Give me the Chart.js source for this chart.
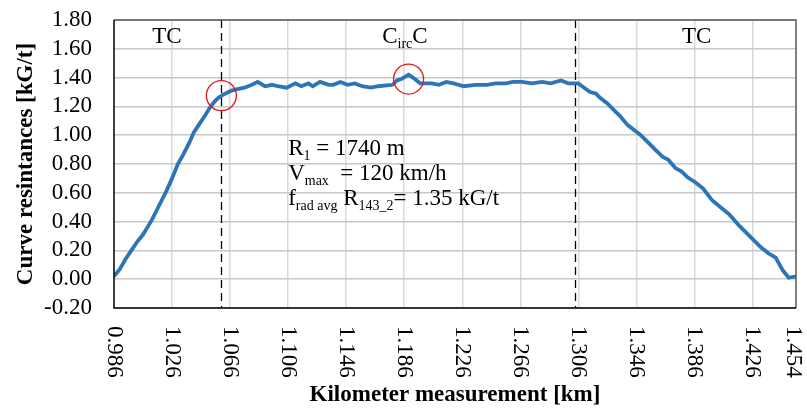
<!DOCTYPE html>
<html>
<head>
<meta charset="utf-8">
<script src="https://cdn.jsdelivr.net/npm/chart.js@4"></script>
<style>
  html, body { margin: 0; padding: 0; background: #fff; }
</style>
</head>
<body>
<canvas id="chart" width="807" height="409"></canvas>
<script>
// Measured curve resistance along the track
var km = [
  0.986, 0.990, 0.994, 0.998, 1.002, 1.006, 1.009, 1.012, 1.015, 1.019,
  1.022, 1.026, 1.030, 1.034, 1.038, 1.041, 1.045, 1.049, 1.052, 1.055,
  1.058, 1.061, 1.065, 1.067, 1.071, 1.076, 1.081, 1.085, 1.090, 1.095, 1.099,
  1.105, 1.111, 1.115, 1.120, 1.123, 1.128, 1.134, 1.137, 1.142, 1.147,
  1.152, 1.157, 1.163, 1.168, 1.178, 1.181, 1.184, 1.189, 1.192, 1.197,
  1.201, 1.205, 1.210, 1.215, 1.220, 1.227, 1.235, 1.243, 1.249, 1.256,
  1.261, 1.267, 1.274, 1.281, 1.287, 1.294, 1.299, 1.303, 1.306, 1.310,
  1.314, 1.318, 1.321, 1.326, 1.330, 1.335, 1.340, 1.344, 1.349, 1.353,
  1.359, 1.364, 1.368, 1.373, 1.377, 1.381, 1.387, 1.392, 1.398, 1.404,
  1.410, 1.417, 1.422, 1.427, 1.432, 1.437, 1.442, 1.447, 1.451, 1.456
];
var resistance = [
  0.02, 0.07, 0.14, 0.20, 0.26, 0.31, 0.36, 0.41, 0.47, 0.55,
  0.61, 0.70, 0.80, 0.87, 0.95, 1.02, 1.08, 1.14, 1.19, 1.23,
  1.26, 1.28, 1.30, 1.31, 1.32, 1.33, 1.35, 1.37, 1.34, 1.35, 1.34,
  1.33, 1.36, 1.34, 1.36, 1.34, 1.37, 1.35, 1.35, 1.37, 1.35,
  1.36, 1.34, 1.33, 1.34, 1.35, 1.38, 1.39, 1.42, 1.40, 1.36,
  1.36, 1.36, 1.35, 1.37, 1.36, 1.34, 1.35, 1.35, 1.36, 1.36,
  1.37, 1.37, 1.36, 1.37, 1.36, 1.38, 1.36, 1.36, 1.36, 1.33,
  1.30, 1.29, 1.26, 1.22, 1.18, 1.13, 1.07, 1.04, 1.00, 0.96,
  0.90, 0.85, 0.83, 0.77, 0.75, 0.71, 0.67, 0.63, 0.55, 0.50,
  0.45, 0.37, 0.32, 0.27, 0.22, 0.18, 0.15, 0.06, 0.01, 0.02
];
var xTicks = [0.986, 1.026, 1.066, 1.106, 1.146, 1.186, 1.226, 1.266, 1.306, 1.346, 1.386, 1.426, 1.454];

// section boundaries (dashed) and marked transitions (red circles)
var sectionBorders = [1.060, 1.304];
var circleX = [1.060, 1.189];
var circleY = [1.275, 1.39];

// section names: [text, subscript?]
var sectionX = [1.0225, 1.1865, 1.3875];
var sectionParts = [
  [['TC', false]],
  [['C', false], ['irc', true], ['C', false]],
  [['TC', false]]
];
var sectionY = 1.64;

var noteX = 1.106;
var noteY = [0.862, 0.689, 0.515];
var noteParts = [
  [['R', false], ['1', true], [' = 1740 m', false]],
  [['V', false], ['max', true], ['  = 120 km/h', false]],
  [['f', false], ['rad avg', true], [' R', false], ['143_2', true], ['= 1.35 kG/t', false]]
];

var serif = "'Times New Roman', 'Liberation Serif', serif";
var fs = 23;

function drawParts(ctx, parts, x, y, size, align) {
  var subSize = Math.round(size * 0.62);
  var total = 0;
  parts.forEach(function (p) {
    ctx.font = (p[1] ? subSize : size) + 'px ' + serif;
    total += ctx.measureText(p[0]).width;
  });
  var cx = align === 'center' ? x - total / 2 : x;
  ctx.textAlign = 'left';
  ctx.textBaseline = 'alphabetic';
  parts.forEach(function (p) {
    ctx.font = (p[1] ? subSize : size) + 'px ' + serif;
    ctx.fillText(p[0], cx, p[1] ? y + 5 : y);
    cx += ctx.measureText(p[0]).width;
  });
}

var extras = {
  id: 'extras',
  afterDatasetsDraw: function (chart) {
    var ctx = chart.ctx;
    var xs = chart.scales.x, ys = chart.scales.y;
    var a = chart.chartArea;
    ctx.save();
    // dashed section borders
    ctx.strokeStyle = '#000';
    ctx.lineWidth = 1.3;
    ctx.setLineDash([8, 5]);
    sectionBorders.forEach(function (v) {
      var px = Math.round(xs.getPixelForValue(v)) + 0.5;
      ctx.beginPath();
      ctx.moveTo(px, a.top);
      ctx.lineTo(px, a.bottom);
      ctx.stroke();
    });
    ctx.setLineDash([]);
    // red circles
    ctx.strokeStyle = '#e8141c';
    ctx.lineWidth = 1.3;
    circleX.forEach(function (v, i) {
      ctx.beginPath();
      ctx.arc(xs.getPixelForValue(v), ys.getPixelForValue(circleY[i]), 15, 0, Math.PI * 2);
      ctx.stroke();
    });
    // texts
    ctx.fillStyle = '#000';
    sectionParts.forEach(function (parts, i) {
      drawParts(ctx, parts, xs.getPixelForValue(sectionX[i]), ys.getPixelForValue(sectionY), fs, 'center');
    });
    noteParts.forEach(function (parts, i) {
      drawParts(ctx, parts, xs.getPixelForValue(noteX), ys.getPixelForValue(noteY[i]), fs, 'left');
    });
    // plot frame
    ctx.lineWidth = 1.5;
    ctx.strokeStyle = '#595959';
    ctx.beginPath();
    ctx.moveTo(a.left, a.top);
    ctx.lineTo(a.right, a.top);
    ctx.lineTo(a.right, a.bottom);
    ctx.stroke();
    ctx.strokeStyle = '#000';
    ctx.beginPath();
    ctx.moveTo(a.left, a.top);
    ctx.lineTo(a.left, a.bottom);
    ctx.lineTo(a.right, a.bottom);
    ctx.stroke();
    // x tick labels, rotated clockwise
    ctx.font = fs + 'px ' + serif;
    ctx.fillStyle = '#000';
    ctx.textAlign = 'left';
    ctx.textBaseline = 'middle';
    xTicks.forEach(function (v) {
      ctx.save();
      ctx.translate(xs.getPixelForValue(v), a.bottom + 18);
      ctx.rotate(Math.PI / 2);
      ctx.fillText(v.toFixed(3), 0, 0);
      ctx.restore();
    });
    ctx.restore();
  }
};

var points = km.map(function (k, i) { return { x: k, y: resistance[i] }; });

new Chart(document.getElementById('chart').getContext('2d'), {
  type: 'line',
  data: {
    datasets: [{
      label: 'Curve resistance',
      data: points,
      borderColor: '#2E75B6',
      borderWidth: 3.8,
      pointRadius: 0,
      tension: 0,
      fill: false
    }]
  },
  options: {
    responsive: false,
    animation: false,
    devicePixelRatio: 1,
    layout: { padding: { left: 0, right: 11, top: 20, bottom: 0 } },
    plugins: { legend: { display: false }, tooltip: { enabled: false } },
    scales: {
      x: {
        type: 'linear',
        min: 0.986,
        max: 1.456,
        afterBuildTicks: function (scale) {
          scale.ticks = xTicks.map(function (v) { return { value: v }; });
        },
        afterFit: function (scale) { scale.height = 101; },
        border: { display: false },
        grid: {
          color: function (c) { return c.index === xTicks.length - 1 || c.index === 0 ? 'rgba(0,0,0,0)' : '#d9d9d9'; },
          lineWidth: 1.5,
          drawTicks: false
        },
        ticks: { display: false },
        title: {
          display: true,
          text: 'Kilometer measurement [km]',
          color: '#000',
          font: { family: serif, size: fs, weight: 'bold' },
          padding: { top: 0, bottom: 0 }
        }
      },
      y: {
        min: -0.2,
        max: 1.8,
        afterFit: function (scale) {
          scale.width = 114;
          scale.paddingTop = 0;
          scale.paddingBottom = 0;
        },
        border: { display: false },
        grid: { color: '#c8c8c8', lineWidth: 1.5, drawTicks: false },
        ticks: {
          stepSize: 0.2,
          autoSkip: false,
          padding: 22,
          color: '#000',
          font: { family: serif, size: fs },
          callback: function (v) { return Number(v).toFixed(2); }
        },
        title: {
          display: true,
          text: 'Curve resintances [kG/t]',
          color: '#000',
          font: { family: serif, size: fs, weight: 'bold' },
          padding: { top: 12, bottom: 0 }
        }
      }
    }
  },
  plugins: [extras]
});
</script>
</body>
</html>
